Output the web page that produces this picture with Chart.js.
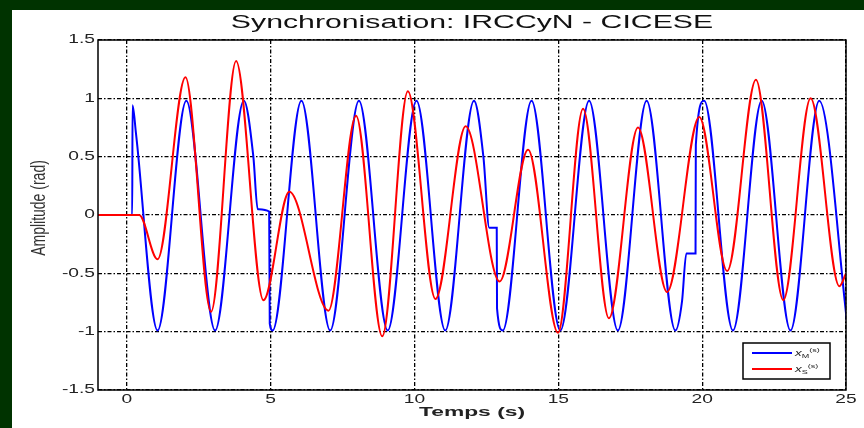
<!DOCTYPE html>
<html>
<head>
<meta charset="utf-8">
<script src="https://cdn.jsdelivr.net/npm/chart.js@4"></script>
<style>
  html, body { margin: 0; padding: 0; background: #003300; }
  body { width: 864px; height: 428px; position: relative; overflow: hidden; }
  #panel { position: absolute; left: 12px; top: 10px; width: 852px; height: 418px; background: #fff; }
</style>
</head>
<body>
<div id="panel"><canvas id="sync-chart"></canvas></div>
<script>
// master (blue): extremes + the held samples
const masterTime = [-1, 0.19, 0.2, 0.32, 1.07, 2.07, 3.07, 4.07, 4.4, 4.55, 4.95, 4.97, 5.07, 6.07, 7.07, 8.07,
  9.07, 10.07, 11.07, 12.07, 12.4, 12.6, 12.86, 12.87, 13.07, 14.07, 15.07, 16.07, 17.07, 18.07, 19.07,
  19.3, 19.45, 19.77, 19.78, 20.07, 21.07, 22.07, 23.07, 24.07, 25.07];
const masterAmp = [0, 0, 0.94, 0.7, -0.99, 0.98, -0.99, 0.98, 0.5, 0.05, 0.03, -0.93, -0.99, 0.98, -0.99, 0.98,
  -0.99, 0.98, -0.99, 0.98, 0.49, -0.11, -0.11, -0.8, -0.99, 0.98, -0.99, 0.98, -0.99, 0.98, -0.99,
  -0.74, -0.33, -0.33, 0.6, 0.98, -0.99, 0.98, -0.99, 0.98, -0.99];

// slave (red)
const slaveTime = [-1, 0.43, 1.07, 2.04, 2.93, 3.8, 4.75, 5.65, 7.01, 7.97, 8.88, 9.77, 10.73, 11.78, 12.96,
  13.95, 14.99, 15.86, 16.76, 17.77, 18.78, 19.9, 20.87, 21.87, 22.82, 23.77, 24.77, 25];
const slaveAmp = [0, 0, -0.38, 1.18, -0.83, 1.32, -0.73, 0.2, -0.82, 0.85, -1.04, 1.06, -0.72, 0.76, -0.57,
  0.56, -1.01, 0.91, -0.885, 0.75, -0.66, 0.84, -0.48, 1.16, -0.73, 1.0, -0.61, -0.5];

const xTicks = [0, 5, 10, 15, 20, 25];
const yTicks = [-1.5, -1, -0.5, 0, 0.5, 1, 1.5];
const yTickLabels = ['-1.5', '-1', '-0.5', '0', '0.5', '1', '1.5'];

const toPoints = (ts, vs) => ts.map((t, i) => ({x: t, y: vs[i]}));

// text in the picture is stretched sideways, so draw it scaled
function wideText(ctx, str, px, py, sx, align) {
    ctx.save();
    ctx.translate(px, py);
    ctx.scale(sx, 1);
    ctx.textAlign = align;
    ctx.fillText(str, 0, 0);
    ctx.restore();
}

function legendLabel(ctx, x0, base, sub) {
    ctx.save();
    ctx.translate(x0, base);
    ctx.scale(1.5, 1);
    ctx.textAlign = 'left';
    ctx.textBaseline = 'alphabetic';
    ctx.font = 'italic 9px "Liberation Sans"';
    ctx.fillText('x', 0, 0);
    let w = ctx.measureText('x').width;
    ctx.font = '6px "Liberation Sans"';
    ctx.fillText(sub, w, 2);
    w += ctx.measureText(sub).width;
    ctx.fillText('(s)', w, -4);
    ctx.restore();
}

const decorations = {
    id: 'decorations',
    afterDraw(chart) {
        const {ctx, chartArea: a, scales: {x, y}} = chart;
        ctx.save();
        ctx.strokeStyle = '#000';
        ctx.lineWidth = 1.5;
        ctx.strokeRect(a.left, a.top, a.right - a.left, a.bottom - a.top);

        ctx.fillStyle = '#222';
        ctx.textBaseline = 'middle';
        ctx.font = '12px "Liberation Sans"';
        yTicks.forEach((v, i) => wideText(ctx, yTickLabels[i], a.left - 3, y.getPixelForValue(v), 1.6, 'right'));
        xTicks.forEach(v => wideText(ctx, String(v), x.getPixelForValue(v), a.bottom + 10, 1.6, 'center'));

        ctx.font = 'bold 12px "Liberation Sans"';
        wideText(ctx, 'Temps (s)', (a.left + a.right) / 2, a.bottom + 23, 1.9, 'center');

        ctx.fillStyle = '#111';
        ctx.textBaseline = 'alphabetic';
        ctx.font = '18px "Liberation Sans"';
        wideText(ctx, 'Synchronisation: IRCCyN - CICESE', (a.left + a.right) / 2, 18, 1.68, 'center');

        ctx.save();
        ctx.fillStyle = '#333';
        ctx.translate(27, 198);
        ctx.scale(1.45, 1);
        ctx.rotate(-Math.PI / 2);
        ctx.textAlign = 'center';
        ctx.textBaseline = 'middle';
        ctx.font = '14px "Liberation Sans"';
        ctx.fillText('Amplitude (rad)', 0, 0);
        ctx.restore();

        // legend box
        ctx.fillStyle = '#fff';
        ctx.fillRect(731, 333, 87, 36);
        ctx.lineWidth = 1.5;
        ctx.strokeStyle = '#000';
        ctx.strokeRect(731, 333, 87, 36);
        ctx.lineWidth = 2;
        ctx.strokeStyle = '#0000ff';
        ctx.beginPath(); ctx.moveTo(740, 343); ctx.lineTo(780, 343); ctx.stroke();
        ctx.strokeStyle = '#ff0000';
        ctx.beginPath(); ctx.moveTo(740, 359); ctx.lineTo(780, 359); ctx.stroke();
        ctx.fillStyle = '#222';
        legendLabel(ctx, 783, 346, 'M');
        legendLabel(ctx, 783, 362, 'S');
        ctx.restore();
    }
};

let ctx = document.querySelector('#sync-chart').getContext('2d');
let syncChart = new Chart(ctx, {
    type: 'line',
    data: {
        datasets: [{
            label: 'xM(s)',
            data: toPoints(masterTime, masterAmp),
            borderColor: '#0000ff',
            borderWidth: 2,
            pointRadius: 0,
            cubicInterpolationMode: 'monotone',
            order: 1
        }, {
            label: 'xS(s)',
            data: toPoints(slaveTime, slaveAmp),
            borderColor: '#ff0000',
            borderWidth: 2,
            pointRadius: 0,
            cubicInterpolationMode: 'monotone',
            order: 0
        }]
    },
    options: {
        responsive: true,
        maintainAspectRatio: false,
        animation: false,
        layout: { padding: { top: 30, right: 18, left: 0, bottom: 0 } },
        scales: {
            x: {
                type: 'linear',
                min: -1,
                max: 25,
                afterBuildTicks: s => { s.ticks = xTicks.map(v => ({value: v})); },
                afterFit: s => { s.height = 38; },
                ticks: { display: false },
                grid: { color: '#000', lineWidth: 1.3, drawTicks: false },
                border: { display: false, dash: [4, 2, 1.5, 2] }
            },
            y: {
                min: -1.5,
                max: 1.5,
                afterBuildTicks: s => { s.ticks = yTicks.map(v => ({value: v})); },
                afterFit: s => { s.width = 86; },
                ticks: { display: false },
                grid: { color: '#000', lineWidth: 1.3, drawTicks: false },
                border: { display: false, dash: [4, 2, 1.5, 2] }
            }
        },
        plugins: {
            legend: { display: false },
            tooltip: { enabled: false }
        }
    },
    plugins: [decorations]
});
</script>
</body>
</html>
